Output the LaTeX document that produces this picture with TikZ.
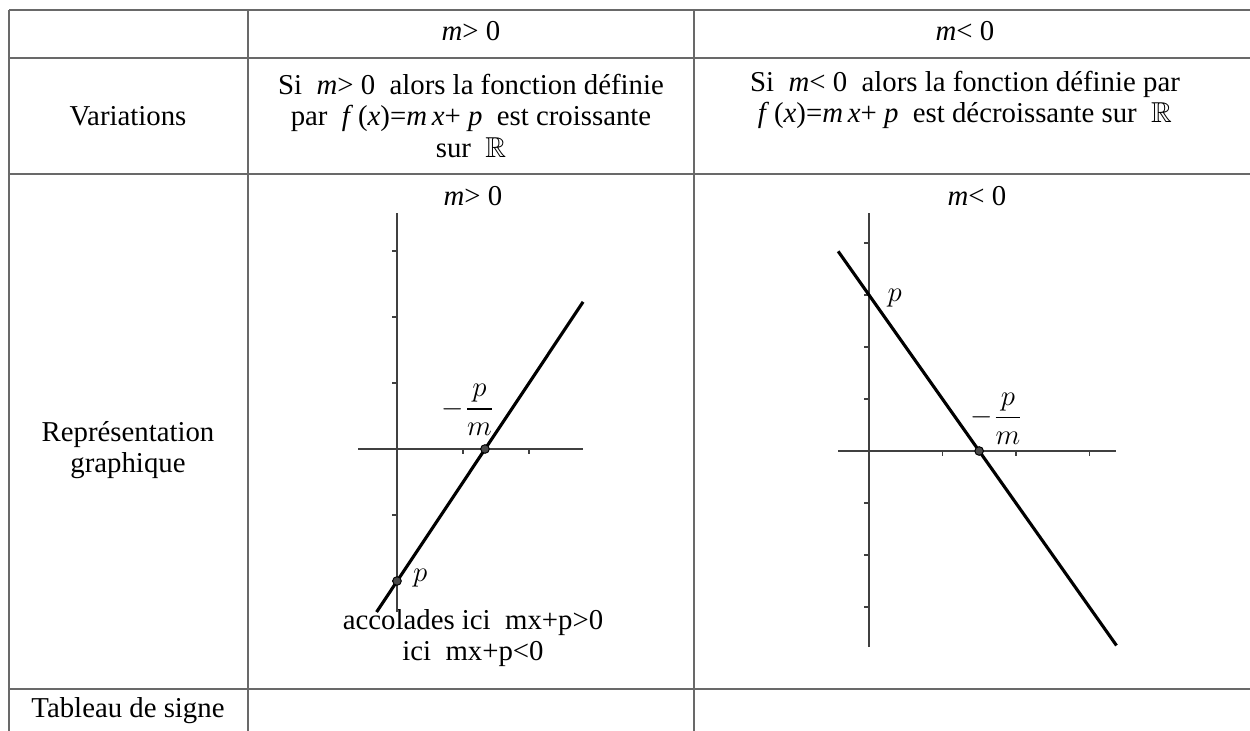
\documentclass[tikz,border=0pt]{standalone}
\usepackage{fontspec}
\setmainfont{Liberation Serif}
\usepackage{amsmath,amssymb}
\usetikzlibrary{positioning}
\definecolor{gridgray}{RGB}{105,105,105}
\definecolor{axisgray}{RGB}{64,64,64}
\definecolor{dotgray}{RGB}{72,72,72}
\tikzset{
  cell/.style={align=center,inner sep=0pt,font=\fontsize{12}{13}\selectfont},
  tabline/.style={draw=gridgray,line width=0.6pt},
  axe/.style={draw=axisgray,line width=0.6pt},
  droite/.style={draw=black,line width=1.3pt},
  pdot/.style={circle,draw=black,fill=dotgray,line width=0.4pt,inner sep=0pt,minimum size=3.6pt},
  lbl/.style={inner sep=0pt,font=\fontsize{12}{13}\selectfont},
}
\begin{document}
\begin{tikzpicture}[x=0.4167pt,y=-0.4167pt]
  \useasboundingbox (0,0) rectangle (1250,731);

  \draw[tabline] (9,10) -- (1250,10) (9,58) -- (1250,58) (9,174) -- (1250,174) (9,689) -- (1250,689);
  \draw[tabline] (9,10) -- (9,731) (248,10) -- (248,731) (694,10) -- (694,731);

  \node[cell] (hpos) at (471,31) {\textit{m}> 0};
  \node[cell] (hneg) at (965,31) {\textit{m}< 0};
  \node[cell] (variations) at (128,116) {Variations};
  \node[cell] (varpos) at (471,116)
    {Si~ \textit{m}> 0~ alors la fonction définie\\par~ \textit{f}\,(\textit{x})=\textit{m\,x}+ \textit{p}~ est croissante\\sur~ $\mathbb{R}$};
  \node[cell] (varneg) at (965,100)
    {Si~ \textit{m}< 0~ alors la fonction définie par\\\textit{f}\,(\textit{x})=\textit{m\,x}+ \textit{p}~ est décroissante sur~ $\mathbb{R}$};
  \node[cell] (repr) at (128,450) {Représentation\\graphique};
  \node[cell] (tpos) at (473,196) {\textit{m}> 0};
  \node[cell] (tneg) at (977,196) {\textit{m}< 0};
  \node[cell] (accolades) at (473,638) {accolades ici~ mx+p>0\\ici~ mx+p<0};
  \node[cell] (signe) at (128,711) {Tableau de signe};

  \begin{scope}[shift={(397,449)},x=27.5pt,y=27.5pt]
    \draw[axe] (-0.59,0) -- (2.82,0) (0,-2.47) -- (0,3.58);
    \draw[axe] (0,1) -- ++(-2pt,0) (0,2) -- ++(-2pt,0) (0,3) -- ++(-2pt,0)
      (0,-1) -- ++(-2pt,0) (0,-2) -- ++(-2pt,0) (1,0) -- ++(0,-2pt) (2,0) -- ++(0,-2pt);
    \draw[droite] (-0.31,-2.47) -- (2.82,2.23);
    \node[pdot] (ppos) at (0,-2) {};
    \node[pdot] (rpos) at (1.333,0) {};
    \node[lbl] (lppos) at (0.35,-1.95) {$p$};
    \node[lbl] (lrpos) at (1.08,0.59) {$-\dfrac{p}{m}$};
  \end{scope}

  \begin{scope}[shift={(869,451)},x=30.6pt,y=21.67pt]
    \draw[axe] (-0.42,0) -- (3.37,0) (0,-3.77) -- (0,4.58);
    \draw[axe] (0,1) -- ++(-2pt,0) (0,2) -- ++(-2pt,0) (0,3) -- ++(-2pt,0) (0,4) -- ++(-2pt,0)
      (0,-1) -- ++(-2pt,0) (0,-2) -- ++(-2pt,0) (0,-3) -- ++(-2pt,0)
      (1,0) -- ++(0,-2pt) (2,0) -- ++(0,-2pt) (3,0) -- ++(0,-2pt);
    \draw[droite] (-0.42,3.84) -- (3.37,-3.74);
    \node[pdot] (rneg) at (1.5,0) {};
    \node[lbl] (lpneg) at (0.35,2.94) {$p$};
    \node[lbl] (lrneg) at (1.74,0.62) {$-\dfrac{p}{m}$};
  \end{scope}
\end{tikzpicture}
\end{document}
